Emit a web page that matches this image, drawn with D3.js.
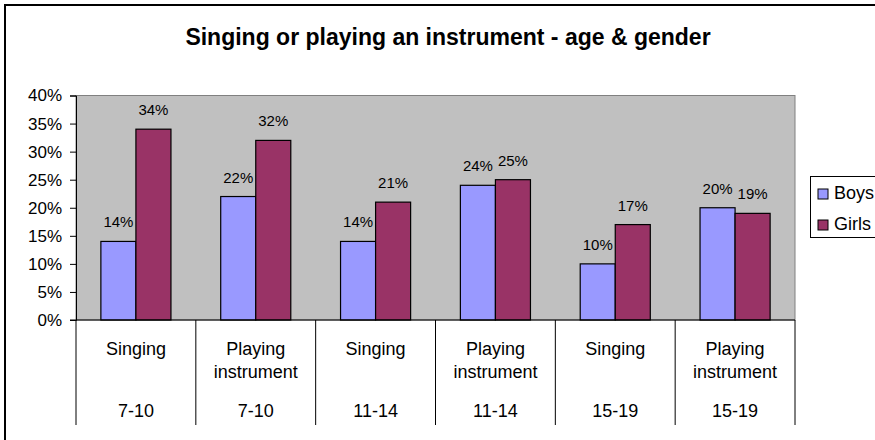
<!DOCTYPE html>
<html><head><meta charset="utf-8">
<script src="https://cdn.jsdelivr.net/npm/d3@7"></script>
<style>body{margin:0;background:#fff}svg{display:block;font-family:Arial,"Liberation Sans",sans-serif}</style>
</head><body><svg id="c" width="875" height="440"></svg>
<script>
const title = "Singing or playing an instrument - age & gender";
const activities = ["Singing", "Playing instrument", "Singing", "Playing instrument", "Singing", "Playing instrument"];
const ages = ["7-10", "7-10", "11-14", "11-14", "15-19", "15-19"];
const seriesNames = ["Boys", "Girls"];
const boys = [14, 22, 14, 24, 10, 20];
const girls = [34, 32, 21, 25, 17, 19];
const yTicks = [0, 5, 10, 15, 20, 25, 30, 35, 40];
const colors = ["#9999FF", "#993366"];

const svg = d3.select("#c");
const L = 76, R = 795, T = 95.5, B = 320;
const idx = d3.range(activities.length);
const x0 = d3.scaleBand().domain(idx).range([L, R]).paddingInner(0).paddingOuter(0);
const x1 = d3.scaleBand().domain(seriesNames).range([0, x0.bandwidth()]).paddingInner(0).paddingOuter(0.71);
const y = d3.scaleLinear().domain([0, 40]).range([B, T]);
const color = d3.scaleOrdinal().domain(seriesNames).range(colors);

// outer chart border
svg.append("rect").attr("x", 5).attr("y", 5).attr("width", 900).attr("height", 460)
  .attr("fill", "none").attr("stroke", "#000").attr("stroke-width", 2);

// title
svg.append("text").attr("x", 448).attr("y", 45).attr("text-anchor", "middle")
  .attr("font-size", 23).attr("font-weight", "bold").attr("fill", "#000").text(title);

// plot area
svg.append("rect").attr("x", L).attr("y", T).attr("width", R - L).attr("height", B - T)
  .attr("fill", "#C0C0C0").attr("stroke", "#808080").attr("stroke-width", 1);

// y axis
const yAxis = d3.axisLeft(y).tickValues(yTicks).tickFormat(d => d + "%").tickSize(6).tickPadding(8);
const gy = svg.append("g").attr("transform", `translate(${L},0)`).call(yAxis);
gy.select(".domain").attr("stroke", "#000");
gy.selectAll(".tick line").attr("stroke", "#000");
gy.selectAll(".tick text").attr("font-size", 17).attr("font-family", "Arial, 'Liberation Sans', sans-serif").attr("fill", "#000");

// bars
const data = idx.map(i => ({i, vals: [{k: "Boys", v: boys[i]}, {k: "Girls", v: girls[i]}]}));
const groups = svg.append("g").selectAll("g").data(data).join("g")
  .attr("transform", d => `translate(${x0(d.i)},0)`);
groups.selectAll("rect").data(d => d.vals).join("rect")
  .attr("x", d => x1(d.k)).attr("y", d => y(d.v))
  .attr("width", x1.bandwidth()).attr("height", d => y(0) - y(d.v))
  .attr("fill", d => color(d.k)).attr("stroke", "#000").attr("stroke-width", 1.2);
groups.selectAll("text").data(d => d.vals).join("text")
  .attr("x", d => x1(d.k) + x1.bandwidth() / 2).attr("y", d => y(d.v) - 14)
  .attr("text-anchor", "middle").attr("font-size", 15).attr("fill", "#000")
  .text(d => d.v + "%");

// x axis line and dividers
svg.append("line").attr("x1", L - 6).attr("x2", R).attr("y1", B).attr("y2", B).attr("stroke", "#000").attr("stroke-width", 1.2);
const bounds = idx.map(i => x0(i)).concat([R]);
svg.append("g").selectAll("line").data(bounds).join("line")
  .attr("x1", d => d).attr("x2", d => d).attr("y1", B).attr("y2", 425)
  .attr("stroke", "#000").attr("stroke-width", 1);

// category labels
const cl = svg.append("g").selectAll("text").data(idx).join("text")
  .attr("text-anchor", "middle").attr("font-size", 18).attr("fill", "#000");
cl.each(function(i) {
  const t = d3.select(this);
  const cx = x0(i) + x0.bandwidth() / 2;
  const words = activities[i].split(" ");
  words.forEach((w, j) => t.append("tspan").attr("x", cx).attr("y", 355 + j * 23).text(w));
});
svg.append("g").selectAll("text").data(idx).join("text")
  .attr("x", i => x0(i) + x0.bandwidth() / 2).attr("y", 417)
  .attr("text-anchor", "middle").attr("font-size", 18).attr("fill", "#000")
  .text(i => ages[i]);

// legend
const lg = svg.append("g");
lg.append("rect").attr("x", 810.5).attr("y", 176.5).attr("width", 100).attr("height", 61)
  .attr("fill", "#fff").attr("stroke", "#000").attr("stroke-width", 1);
const li = lg.selectAll("g").data(seriesNames).join("g")
  .attr("transform", (d, j) => `translate(818,${189 + j * 31})`);
li.append("rect").attr("width", 10).attr("height", 10).attr("fill", d => color(d)).attr("stroke", "#000").attr("stroke-width", 1);
li.append("text").attr("x", 16).attr("y", 9.5).attr("font-size", 18).attr("fill", "#000").text(d => d);
</script></body></html>
